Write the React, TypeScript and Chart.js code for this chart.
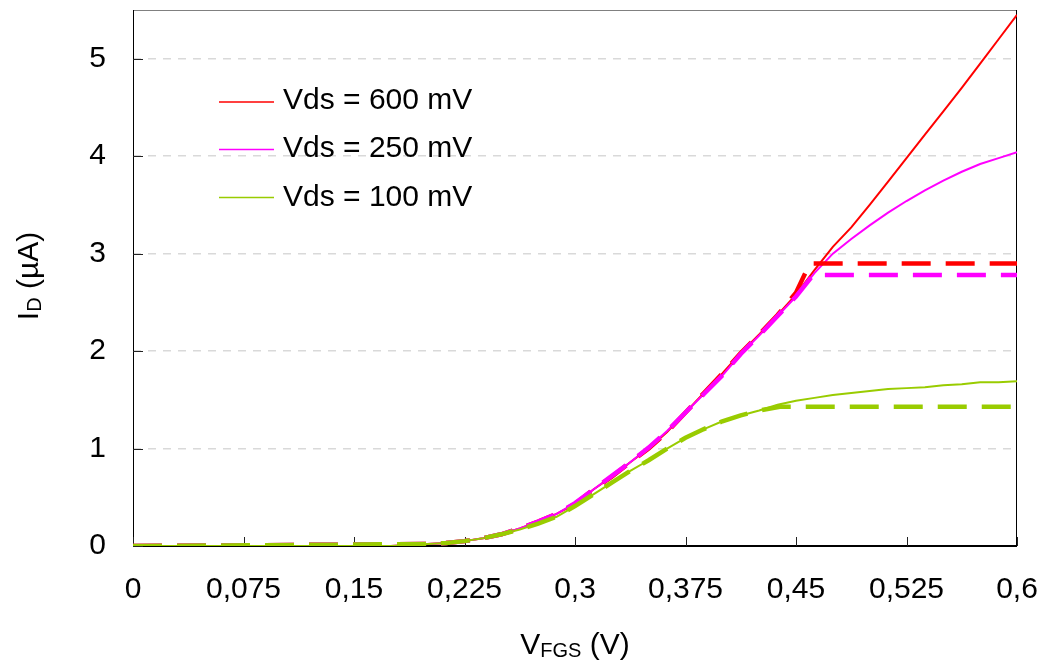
import React, { useEffect, useRef } from "react";
import { Chart, registerables } from "chart.js";

Chart.register(...registerables);

const FONT = "'Liberation Sans', Arial, sans-serif";

// Gate voltage (V) shared by the measured curves
const vfgs = [
  0, 0.025, 0.05, 0.075, 0.1, 0.125, 0.15, 0.175, 0.19, 0.2,
  0.2125, 0.225, 0.2375, 0.25, 0.2625, 0.275, 0.2875, 0.3,
  0.3125, 0.325, 0.3375, 0.35, 0.3625, 0.375, 0.3875, 0.4, 0.4125, 0.425, 0.4375, 0.45,
  0.4625, 0.475, 0.4875, 0.5, 0.5125, 0.525, 0.5375, 0.55, 0.5625, 0.575, 0.5875, 0.6,
];

// Measured drain current (µA)
const id600 = [
  0, 0, 0, 0, 0, 0, 0, 0, 0.01, 0.02,
  0.03, 0.05, 0.08, 0.12, 0.18, 0.25, 0.33, 0.43,
  0.58, 0.71, 0.86, 1.0, 1.17, 1.37, 1.57, 1.77, 1.98, 2.17, 2.37, 2.58,
  2.83, 3.07, 3.27, 3.5, 3.74, 3.98, 4.22, 4.46, 4.7, 4.95, 5.2, 5.45,
];
const id250 = [
  0, 0, 0, 0, 0, 0, 0, 0, 0.01, 0.02,
  0.03, 0.05, 0.08, 0.12, 0.18, 0.25, 0.33, 0.44,
  0.58, 0.72, 0.86, 1.01, 1.18, 1.37, 1.56, 1.75, 1.97, 2.16, 2.36, 2.56,
  2.8, 3.0, 3.15, 3.29, 3.42, 3.54, 3.65, 3.75, 3.84, 3.92, 3.98, 4.04,
];
const id100 = [
  0, 0, 0, 0, 0, 0, 0, 0, 0.01, 0.02,
  0.03, 0.05, 0.08, 0.12, 0.17, 0.23, 0.3, 0.41,
  0.53, 0.65, 0.77, 0.88, 1.0, 1.11, 1.2, 1.28, 1.34, 1.39, 1.45, 1.49,
  1.52, 1.55, 1.57, 1.59, 1.61, 1.62, 1.63, 1.65, 1.66, 1.68, 1.68, 1.69,
];

// Model curves (thick dashed)
const model600V = [0, 0.2, 0.2125, 0.225, 0.2375, 0.25, 0.2625, 0.275, 0.2875, 0.3, 0.3125, 0.325, 0.3375, 0.35, 0.3625, 0.375, 0.3875, 0.4, 0.4125, 0.425, 0.4375, 0.45, 0.4595, 0.6];
const model600I = [0, 0.02, 0.03, 0.05, 0.08, 0.12, 0.18, 0.25, 0.33, 0.43, 0.58, 0.71, 0.86, 1.0, 1.17, 1.37, 1.57, 1.77, 1.98, 2.17, 2.37, 2.6, 2.9, 2.9];
const model250V = [0, 0.2, 0.2125, 0.225, 0.2375, 0.25, 0.2625, 0.275, 0.2875, 0.3, 0.3125, 0.325, 0.3375, 0.35, 0.3625, 0.375, 0.3875, 0.4, 0.4125, 0.425, 0.4375, 0.45, 0.4616, 0.6];
const model250I = [0, 0.02, 0.03, 0.05, 0.08, 0.12, 0.18, 0.25, 0.33, 0.44, 0.58, 0.72, 0.86, 1.01, 1.18, 1.37, 1.56, 1.75, 1.97, 2.16, 2.36, 2.56, 2.78, 2.78];
const model100V = [0, 0.2, 0.2125, 0.225, 0.2375, 0.25, 0.2625, 0.275, 0.2875, 0.3, 0.3125, 0.325, 0.3375, 0.35, 0.3625, 0.375, 0.3875, 0.4, 0.4125, 0.425, 0.44, 0.6];
const model100I = [0, 0.02, 0.03, 0.05, 0.08, 0.12, 0.17, 0.23, 0.3, 0.41, 0.53, 0.65, 0.77, 0.88, 1.0, 1.11, 1.2, 1.28, 1.34, 1.39, 1.43, 1.43];

const seriesLabels = ["Vds = 600 mV", "Vds = 250 mV", "Vds = 100 mV"];
const seriesColors = ["#ff0000", "#ff00ff", "#99cc00"];

const xTicks = [0, 0.075, 0.15, 0.225, 0.3, 0.375, 0.45, 0.525, 0.6];
const xTickLabels = ["0", "0,075", "0,15", "0,225", "0,3", "0,375", "0,45", "0,525", "0,6"];
const yTicks = [0, 1, 2, 3, 4, 5];
const yTickLabels = ["0", "1", "2", "3", "4", "5"];

const toPts = (xs: number[], ys: number[]) => xs.map((x, i) => ({ x, y: ys[i] }));

const zeroPad = (s: any) => {
  s.paddingTop = 0;
  s.paddingBottom = 0;
  s.paddingLeft = 0;
  s.paddingRight = 0;
};

const decorPlugin = {
  id: "decor",
  beforeDatasetsDraw(chart: any) {
    const { ctx, chartArea: a, scales } = chart;
    ctx.save();
    ctx.lineWidth = 1;
    ctx.strokeStyle = "#808080";
    ctx.beginPath();
    ctx.moveTo(a.left, a.top + 0.5);
    ctx.lineTo(a.right, a.top + 0.5);
    ctx.stroke();
    ctx.strokeStyle = "#000";
    ctx.beginPath();
    ctx.moveTo(a.left + 0.5, a.top);
    ctx.lineTo(a.left + 0.5, a.bottom);
    ctx.moveTo(a.right - 0.5, a.top);
    ctx.lineTo(a.right - 0.5, a.bottom);
    ctx.stroke();
    ctx.lineWidth = 2;
    ctx.beginPath();
    ctx.moveTo(a.left, a.bottom);
    ctx.lineTo(a.right, a.bottom);
    ctx.stroke();
    ctx.lineWidth = 1;
    ctx.strokeStyle = "#222";
    ctx.beginPath();
    xTicks.forEach((v) => {
      const px = Math.round(scales.x.getPixelForValue(v)) + 0.5;
      ctx.moveTo(px, a.bottom);
      ctx.lineTo(px, a.bottom - 9);
    });
    yTicks.forEach((v) => {
      const py = Math.round(scales.y.getPixelForValue(v)) + 0.5;
      ctx.moveTo(a.left, py);
      ctx.lineTo(a.left + 10, py);
    });
    ctx.stroke();
    ctx.restore();
  },
  afterDraw(chart: any) {
    const { ctx, chartArea: a } = chart;
    ctx.save();
    // legend
    const rowBase = [109, 157, 206];
    const rowLine = [102, 149.5, 197.5];
    for (let i = 0; i < 3; i++) {
      ctx.strokeStyle = seriesColors[i];
      ctx.lineWidth = 1.5;
      ctx.beginPath();
      ctx.moveTo(a.left + 86, rowLine[i]);
      ctx.lineTo(a.left + 141, rowLine[i]);
      ctx.stroke();
      ctx.fillStyle = "#000";
      ctx.font = `30px ${FONT}`;
      ctx.textAlign = "left";
      ctx.textBaseline = "alphabetic";
      ctx.fillText(seriesLabels[i], a.left + 150, rowBase[i]);
    }
    // x title: V_FGS (V)
    const big = `30px ${FONT}`;
    const small = `20px ${FONT}`;
    ctx.font = big;
    const w1 = ctx.measureText("V").width;
    const w3 = ctx.measureText(" (V)").width;
    ctx.font = small;
    const w2 = ctx.measureText("FGS").width;
    const total = w1 + w2 + w3;
    let x = (a.left + a.right) / 2 - total / 2;
    const yb = 654;
    ctx.font = big;
    ctx.fillText("V", x, yb);
    x += w1;
    ctx.font = small;
    ctx.fillText("FGS", x, yb + 3);
    x += w2;
    ctx.font = big;
    ctx.fillText(" (V)", x, yb);
    // y title: I_D (µA)
    ctx.save();
    ctx.translate(38, 276);
    ctx.rotate(-Math.PI / 2);
    ctx.font = big;
    const v1 = ctx.measureText("I").width;
    const v3 = ctx.measureText(" (µA)").width;
    ctx.font = small;
    const v2 = ctx.measureText("D").width;
    let t = -(v1 + v2 + v3) / 2;
    ctx.font = big;
    ctx.fillText("I", t, 0);
    t += v1;
    ctx.font = small;
    ctx.fillText("D", t, 3);
    t += v2;
    ctx.font = big;
    ctx.fillText(" (µA)", t, 0);
    ctx.restore();
    ctx.restore();
  },
};

export default function App() {
  const ref = useRef<HTMLCanvasElement>(null);
  useEffect(() => {
    if (!ref.current) return;
    const solid = (i: number, ys: number[], order: number) => ({
      label: seriesLabels[i],
      data: toPts(vfgs, ys),
      borderColor: seriesColors[i],
      backgroundColor: seriesColors[i],
      borderWidth: 2,
      pointRadius: 0,
      tension: 0,
      showLine: true,
      order,
    });
    const model = (i: number, xs: number[], ys: number[], order: number) => ({
      label: seriesLabels[i] + " model",
      data: toPts(xs, ys),
      borderColor: seriesColors[i],
      backgroundColor: seriesColors[i],
      borderWidth: 4.5,
      borderDash: [29, 15],
      borderCapStyle: "butt",
      pointRadius: 0,
      tension: 0,
      showLine: true,
      order,
    });
    const chart = new Chart(ref.current, {
      type: "scatter",
      data: {
        datasets: [
          model(2, model100V, model100I, 0),
          model(1, model250V, model250I, 1),
          model(0, model600V, model600I, 2),
          solid(2, id100, 3),
          solid(1, id250, 4),
          solid(0, id600, 5),
        ] as any,
      },
      options: {
        animation: false,
        responsive: false,
        layout: { padding: { left: 0, top: 10, right: 27, bottom: 0 } },
        plugins: { legend: { display: false }, tooltip: { enabled: false } },
        scales: {
          x: {
            type: "linear",
            min: 0,
            max: 0.6,
            afterBuildTicks: (s: any) => {
              s.ticks = xTicks.map((value) => ({ value }));
            },
            afterFit: (s: any) => {
              s.height = 124;
              zeroPad(s);
            },
            ticks: {
              autoSkip: false,
              maxRotation: 0,
              padding: 26,
              color: "#000",
              font: { family: FONT, size: 30 },
              callback: (_v: any, i: number) => xTickLabels[i],
            },
            grid: { display: false, drawTicks: false },
            border: { display: false },
          },
          y: {
            type: "linear",
            min: 0,
            max: 5.5,
            afterBuildTicks: (s: any) => {
              s.ticks = yTicks.map((value) => ({ value }));
            },
            afterFit: (s: any) => {
              s.width = 133;
              zeroPad(s);
            },
            ticks: {
              padding: 27,
              color: "#000",
              font: { family: FONT, size: 30 },
              callback: (_v: any, i: number) => yTickLabels[i],
            },
            grid: {
              drawTicks: false,
              color: (c: any) => (c.tick && c.tick.value === 0 ? "rgba(0,0,0,0)" : "#d9d9d9"),
              lineWidth: 1.5,
            },
            border: { display: false, dash: [8, 7] },
          },
        },
      },
      plugins: [decorPlugin],
    } as any);
    return () => chart.destroy();
  }, []);
  return (
    <div style={{ position: "fixed", left: 0, top: 0, width: 1044, height: 670, background: "#fff" }}>
      <canvas ref={ref} width={1044} height={670} style={{ display: "block" }} />
    </div>
  );
}
